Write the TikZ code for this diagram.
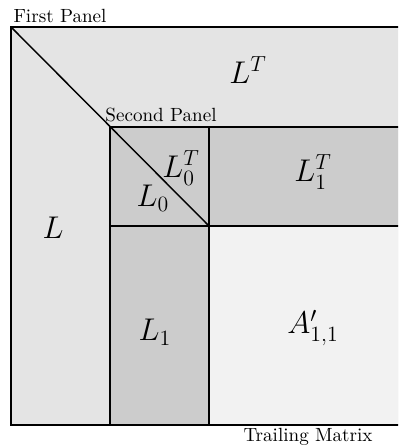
\documentclass[tikz,border=0pt]{standalone}
\begin{document}
\begin{tikzpicture}[x=0.55pt,y=-0.55pt,
  edge/.style={draw=black,line width=0.8pt},
  big/.style={font=\fontsize{16.5}{19}\selectfont},
  small/.style={font=\fontsize{10.5}{12}\selectfont}]
\definecolor{lgray}{HTML}{E4E4E4}
\definecolor{mgray}{HTML}{CCCCCC}
\definecolor{tgray}{HTML}{F2F2F2}
\useasboundingbox (0,0) rectangle (398,446);
\clip (0,0) rectangle (398,446);
\coordinate (TL) at (11,27);
\coordinate (BR) at (409,425);
\coordinate (P) at (110,127);
\coordinate (Q) at (209,226);
% fills
\fill[lgray] (TL) rectangle (BR);
\fill[mgray] (110,127) rectangle (209,425);
\fill[mgray] (110,127) rectangle (409,226);
\fill[tgray] (Q) rectangle (BR);
% lines
\draw[edge] (TL) rectangle (BR);
\draw[edge] (110,127) -- (110,425);
\draw[edge] (209,127) -- (209,425);
\draw[edge] (110,127) -- (409,127);
\draw[edge] (110,226) -- (409,226);
\draw[edge] (TL) -- (Q);
% labels
\node[small] (fp) at (60,16) {First Panel};
\node[small] (sp) at (161,115) {Second Panel};
\node[small] (tm) at (308,437) {Trailing Matrix};
\node[big] (LT) at (248,70) {$L^T$};
\node[big] (L) at (53,228) {$L$};
\node[big] (L0T) at (181,168) {$L_0^T$};
\node[big] (L0) at (153,198) {$L_0$};
\node[big] (L1T) at (313,172) {$L_1^T$};
\node[big] (L1) at (155,332) {$L_1$};
\node[big] (A) at (313,328) {$A'_{1,1}$};
\end{tikzpicture}
\end{document}
